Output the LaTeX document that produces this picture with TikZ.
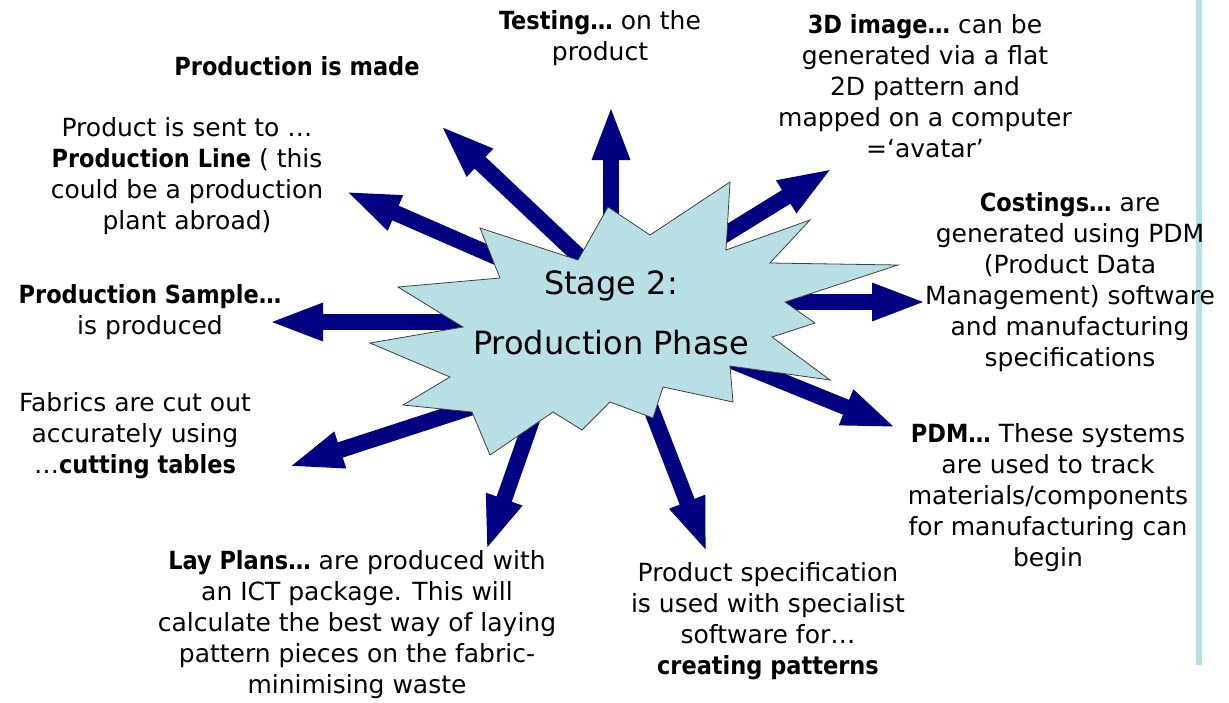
\documentclass[tikz,border=0pt]{standalone}
\usepackage{fontspec}
\setmainfont{DejaVu Sans}[BoldFont={DejaVu Sans Condensed Bold}]
\usetikzlibrary{arrows.meta}
\definecolor{starblue}{RGB}{184,223,227}
\definecolor{arrowblue}{RGB}{0,0,128}
\tikzset{
 txt/.style={font=\fontsize{25}{31}\selectfont, align=center, inner sep=0pt, text=black},
 bigarrow/.style={draw=arrowblue, line width=16pt, -{Triangle[length=55pt,width=34pt]}},
 starshape/.style={fill=starblue, draw=black!75, line width=0.8pt, line join=miter},
}
\begin{document}
\begin{tikzpicture}[x=1pt,y=-1pt]
\useasboundingbox (0,0) rectangle (1229,702);
\fill[white] (0,0) rectangle (1229,702);
\draw[starblue, line width=6pt] (1199,0) -- (1199,665);

% arrow end points
\coordinate (s1) at (611,260);  \coordinate (t1) at (611,105);
\coordinate (s2) at (600,276);  \coordinate (t2) at (440,125);
\coordinate (s3) at (540,276);  \coordinate (t3) at (345,191);
\coordinate (s4) at (500,322);  \coordinate (t4) at (268,322);
\coordinate (s5) at (500,398);  \coordinate (t5) at (288,467);
\coordinate (s6) at (540,397);  \coordinate (t6) at (486,551);
\coordinate (s7) at (640,380);  \coordinate (t7) at (707,553);
\coordinate (s8) at (710,352);  \coordinate (t8) at (897,428);
\coordinate (s9) at (750,302);  \coordinate (t9) at (927,302);
\coordinate (s10) at (700,250); \coordinate (t10) at (833,168);

\foreach \i in {1,...,10} {\draw[bigarrow] (s\i) -- (t\i);}

% starburst
\draw[starshape] (608,207) -- (650,235) -- (730,182) -- (726,250) -- (810,220)
 -- (770,263) -- (898,265) -- (785,302) -- (815,323) -- (772,337) -- (830,380)
 -- (730,366) -- (733,402) -- (663,387) -- (653,418) -- (610,402) -- (582,430)
 -- (553,412) -- (490,455) -- (472,412) -- (403,405) -- (450,377) -- (370,343)
 -- (463,327) -- (398,287) -- (500,278) -- (480,228) -- (578,260) -- cycle;

\node[txt, font=\fontsize{32}{60}\selectfont] (stage) at (611,313) {Stage 2:\\Production Phase};

\node[txt] (testing) at (600,38) {\textbf{Testing…} on the\\product};
\node[txt] (made) at (297,66) {\textbf{Production is made}};
\node[txt] (image) at (925,86) {\textbf{3D image…} can be\\generated via a flat\\2D pattern and\\mapped on a computer\\=‘avatar’};
\node[txt] (line) at (187,176) {Product is sent to …\\\textbf{Production Line} ( this\\could be a production\\plant abroad)};
\node[txt] (costings) at (1070,282) {\textbf{Costings…} are\\generated using PDM\\(Product Data\\Management) software\\and manufacturing\\specifications};
\node[txt] (sample) at (150,312) {\textbf{Production Sample…}\\is produced};
\node[txt] (fabrics) at (135,436) {Fabrics are cut out\\accurately using\\…\textbf{cutting tables}};
\node[txt] (pdm) at (1048,498) {\textbf{PDM…} These systems\\are used to track\\materials/components\\for manufacturing can\\begin};
\node[txt] (lay) at (357,625) {\textbf{Lay Plans…} are produced with\\an ICT package. This will\\calculate the best way of laying\\pattern pieces on the fabric-\\minimising waste};
\node[txt] (spec) at (768,621) {Product specification\\is used with specialist\\software for…\\\textbf{creating patterns}};
\end{tikzpicture}
\end{document}
